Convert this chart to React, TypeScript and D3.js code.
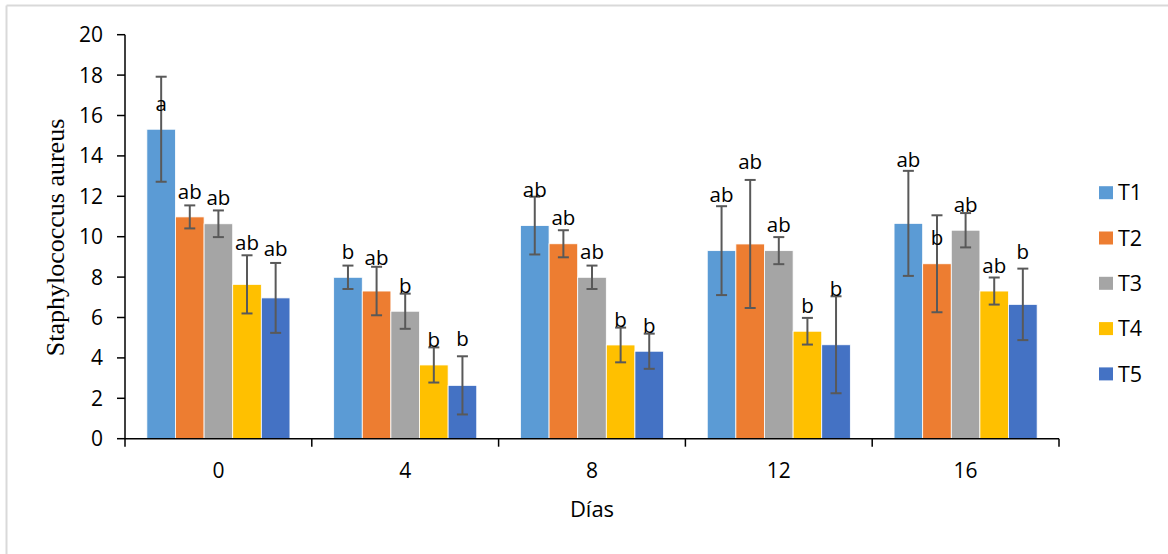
import React from "react";
import * as d3 from "d3";

const days = ["0", "4", "8", "12", "16"];
const series = ["T1", "T2", "T3", "T4", "T5"];
const colors = ["#5B9BD5", "#ED7D31", "#A5A5A5", "#FFC000", "#4472C4"];

// mean values per series (rows) by day (columns)
const T1 = [15.32, 7.99, 10.55, 9.31, 10.66];
const T2 = [10.98, 7.31, 9.65, 9.64, 8.66];
const T3 = [10.64, 6.31, 7.99, 9.31, 10.32];
const T4 = [7.64, 3.65, 4.64, 5.32, 7.31];
const T5 = [6.97, 2.64, 4.33, 4.65, 6.65];

// standard deviations (error bars)
const E1 = [2.6, 0.58, 1.43, 2.2, 2.6];
const E2 = [0.57, 1.2, 0.67, 3.17, 2.4];
const E3 = [0.66, 0.87, 0.58, 0.67, 0.85];
const E4 = [1.44, 0.87, 0.86, 0.66, 0.67];
const E5 = [1.73, 1.44, 0.87, 2.4, 1.77];

// significance letters
const L1 = ["a", "b", "ab", "ab", "ab"];
const L2 = ["ab", "ab", "ab", "ab", "b"];
const L3 = ["ab", "b", "ab", "ab", "ab"];
const L4 = ["ab", "b", "b", "b", "ab"];
const L5 = ["ab", "b", "b", "b", "b"];

// letter anchor (value on y scale where the letter sits)
const P1 = [16.22, 8.9, 11.95, 11.73, 13.47];
const P2 = [11.87, 8.58, 10.58, 13.35, 9.59];
const P3 = [11.58, 7.2, 8.88, 10.23, 11.21];
const P4 = [9.34, 4.55, 5.54, 6.21, 8.22];
const P5 = [9.04, 4.59, 5.22, 7.06, 8.88];

const yTicks = [0, 2, 4, 6, 8, 10, 12, 14, 16, 18, 20];

const values = [T1, T2, T3, T4, T5];
const errors = [E1, E2, E3, E4, E5];
const letters = [L1, L2, L3, L4, L5];
const letterPos = [P1, P2, P3, P4, P5];

export default function App() {
  const W = 1168;
  const H = 554;
  const left = 125;
  const right = 1059;
  const top = 34.7;
  const bottom = 438.7;

  const x0 = d3.scaleBand<string>().domain(days).range([left, right]).paddingInner(0).paddingOuter(0);
  const bw = x0.bandwidth();
  const groupW = bw * 0.766;
  const x1 = d3
    .scaleBand<string>()
    .domain(series)
    .range([(bw - groupW) / 2, (bw + groupW) / 2])
    .padding(0);
  const y = d3.scaleLinear().domain([0, 20]).range([bottom, top]);

  const sans = "'Open Sans', Lato, sans-serif";
  const cap = 5.5;

  return (
    <svg
      width={W}
      height={H}
      style={{ position: "absolute", left: 0, top: 0, background: "#fff" }}
      fontFamily={sans}
    >
      <rect x={0} y={0} width={W} height={H} fill="#fff" />
      {/* outer border */}
      <line x1={6.5} x2={W} y1={5.5} y2={5.5} stroke="#d9d9d9" strokeWidth={2} />
      <line x1={6.5} x2={6.5} y1={5.5} y2={H} stroke="#d9d9d9" strokeWidth={2} />

      {/* bars */}
      {series.map((s, si) =>
        days.map((d, di) => {
          const v = values[si][di];
          const bx = (x0(d) as number) + (x1(s) as number);
          return (
            <rect
              key={`b-${s}-${d}`}
              x={bx}
              y={y(v)}
              width={x1.bandwidth()}
              height={bottom - y(v)}
              fill={colors[si]}
              stroke="#fff"
              strokeWidth={0.8}
            />
          );
        })
      )}

      {/* axes */}
      <line x1={left} x2={left} y1={top} y2={bottom} stroke="#000" strokeWidth={1.5} />
      {yTicks.map((t) => (
        <g key={`yt-${t}`}>
          <line x1={left - 8} x2={left} y1={y(t)} y2={y(t)} stroke="#000" strokeWidth={1.5} />
          <text x={left - 22} y={y(t)} dy="0.36em" textAnchor="end" fontSize={21} fill="#000">
            {t}
          </text>
        </g>
      ))}
      <line x1={left} x2={right} y1={bottom} y2={bottom} stroke="#000" strokeWidth={1.5} />
      {[...days.map((d) => x0(d) as number), right].map((tx, i) => (
        <line key={`xt-${i}`} x1={tx} x2={tx} y1={bottom} y2={bottom + 8} stroke="#000" strokeWidth={1.5} />
      ))}
      {days.map((d) => (
        <text
          key={`xl-${d}`}
          x={(x0(d) as number) + bw / 2}
          y={477.5}
          textAnchor="middle"
          fontSize={21}
          fill="#000"
        >
          {d}
        </text>
      ))}

      {/* error bars */}
      {series.map((s, si) =>
        days.map((d, di) => {
          const v = values[si][di];
          const e = errors[si][di];
          const cx = (x0(d) as number) + (x1(s) as number) + x1.bandwidth() / 2;
          return (
            <g key={`e-${s}-${d}`} stroke="#595959" strokeWidth={2}>
              <line x1={cx} x2={cx} y1={y(v + e)} y2={y(v - e)} />
              <line x1={cx - cap} x2={cx + cap} y1={y(v + e)} y2={y(v + e)} />
              <line x1={cx - cap} x2={cx + cap} y1={y(v - e)} y2={y(v - e)} />
            </g>
          );
        })
      )}

      {/* letters */}
      {series.map((s, si) =>
        days.map((d, di) => {
          const cx = (x0(d) as number) + (x1(s) as number) + x1.bandwidth() / 2;
          return (
            <text
              key={`l-${s}-${d}`}
              x={cx}
              y={y(letterPos[si][di])}
              textAnchor="middle"
              fontSize={20.5}
              fill="#000"
            >
              {letters[si][di]}
            </text>
          );
        })
      )}

      {/* axis titles */}
      <text x={592} y={517} textAnchor="middle" fontSize={22} fill="#000">
        Días
      </text>
      <text
        transform={`translate(64, 237.5) rotate(-90)`}
        textAnchor="middle"
        fontSize={26}
        fontFamily="'Liberation Serif', 'Times New Roman', serif"
        fill="#000"
      >
        Staphylococcus aureus
      </text>

      {/* legend */}
      {series.map((s, si) => {
        const ly = 192.7 + si * 45.3;
        return (
          <g key={`lg-${s}`}>
            <rect x={1099} y={ly - 6.5} width={14} height={13} fill={colors[si]} />
            <text x={1118} y={ly} dy="0.36em" fontSize={21.5} fill="#000">
              {s}
            </text>
          </g>
        );
      })}
    </svg>
  );
}
